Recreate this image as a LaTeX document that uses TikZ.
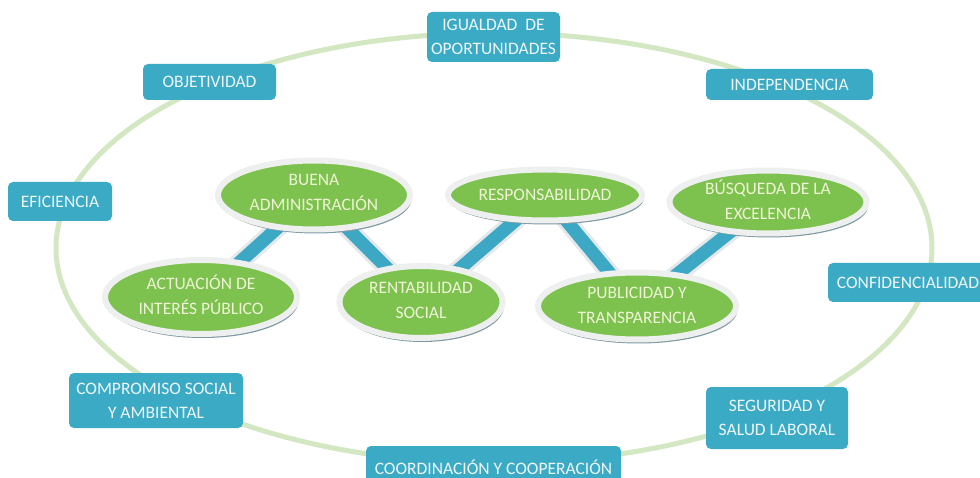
\documentclass[tikz,border=0pt]{standalone}
\usepackage{fontspec}
\setmainfont{Carlito}
\usetikzlibrary{shapes.geometric,shadows}
\pgfdeclarelayer{background}
\pgfdeclarelayer{backmost}
\pgfsetlayers{backmost,background,main}
\definecolor{boxblue}{HTML}{3BABC5}
\definecolor{ringgreen}{HTML}{D3E8C2}
\definecolor{ellgreen}{HTML}{7DC24E}
\definecolor{ellrim}{HTML}{EEEFEF}
\definecolor{shadowc}{HTML}{7E99A4}
\definecolor{boxtext}{HTML}{EDF6F9}
\definecolor{elltext}{HTML}{EFF4D6}
\definecolor{barblue}{HTML}{3CA8C4}
\definecolor{barrim}{HTML}{E4E8EA}
\tikzset{
  valuebox/.style={fill=boxblue, rounded corners=5pt, inner sep=0pt, align=center,
    text=boxtext, font=\fontsize{17.5}{24}\selectfont},
  greenell/.style={ellipse, fill=ellgreen, draw=ellrim, line width=6pt, inner sep=0pt,
    drop shadow={shadow xshift=1.5pt, shadow yshift=-4pt, fill=shadowc, opacity=1}},
  elltxt/.style={text=elltext, align=center, font=\fontsize{17.5}{25}\selectfont},
  barrimline/.style={line width=19pt, draw=barrim},
  barline/.style={line width=13pt, draw=barblue},
}
\begin{document}
\begin{tikzpicture}[x=1pt,y=-1pt]
\useasboundingbox (0,0) rectangle (980,478);
\clip (0,0) rectangle (980,478);
\begin{pgfonlayer}{backmost}
\fill[white] (0,0) rectangle (980,478);
\end{pgfonlayer}
% ring
\draw[ringgreen, line width=5pt] (494,248) ellipse [x radius=438, y radius=215];
% value boxes
\node[valuebox, minimum width=133pt, minimum height=50pt] (igual) at (493.5,37) {IGUALDAD\ \ DE\\OPORTUNIDADES};
\node[valuebox, minimum width=133pt, minimum height=36pt] (objet) at (209.5,82) {OBJETIVIDAD};
\node[valuebox, minimum width=167pt, minimum height=31pt] (indep) at (789.5,84.5) {INDEPENDENCIA};
\node[valuebox, minimum width=104pt, minimum height=39pt] (efic) at (60,201.5) {EFICIENCIA};
\node[valuebox, minimum width=160pt, minimum height=39pt] (confid) at (908,282.5) {CONFIDENCIALIDAD};
\node[valuebox, minimum width=174pt, minimum height=55pt] (compr) at (156,400.5) {COMPROMISO SOCIAL\\Y AMBIENTAL};
\node[valuebox, minimum width=255pt, minimum height=42pt] (coord) at (493.5,467) {COORDINACIÓN Y COOPERACIÓN};
\node[valuebox, minimum width=142pt, minimum height=62pt] (segur) at (777,418) {SEGURIDAD Y\\SALUD LABORAL};
% principle ellipses
\node[greenell, minimum width=192pt, minimum height=69pt,
  label={[elltxt, yshift=3pt]center:BUENA\\ADMINISTRACIÓN}] (buena) at (314,195) {};
\node[greenell, minimum width=194pt, minimum height=51pt,
  label={[elltxt]center:RESPONSABILIDAD}] (resp) at (545,195) {};
\node[greenell, minimum width=197pt, minimum height=63pt,
  label={[elltxt, yshift=2pt]center:BÚSQUEDA DE LA\\EXCELENCIA}] (busq) at (768,202) {};
\node[greenell, minimum width=192pt, minimum height=74pt,
  label={[elltxt, yshift=2pt]center:ACTUACIÓN DE\\INTERÉS PÚBLICO}] (actu) at (201,297) {};
\node[greenell, minimum width=163pt, minimum height=72pt,
  label={[elltxt, yshift=2pt]center:RENTABILIDAD\\SOCIAL}] (rent) at (421,302) {};
\node[greenell, minimum width=198pt, minimum height=67pt,
  label={[elltxt, yshift=1pt]center:PUBLICIDAD Y\\TRANSPARENCIA}] (publ) at (637,306) {};
% connecting bars
\begin{pgfonlayer}{background}
\foreach \a/\b in {buena/actu, buena/rent, rent/resp, resp/publ, publ/busq}{
  \draw[barrimline] (\a.center) -- (\b.center);
  \draw[barline] (\a.center) -- (\b.center);
}
\end{pgfonlayer}
\end{tikzpicture}
\end{document}
